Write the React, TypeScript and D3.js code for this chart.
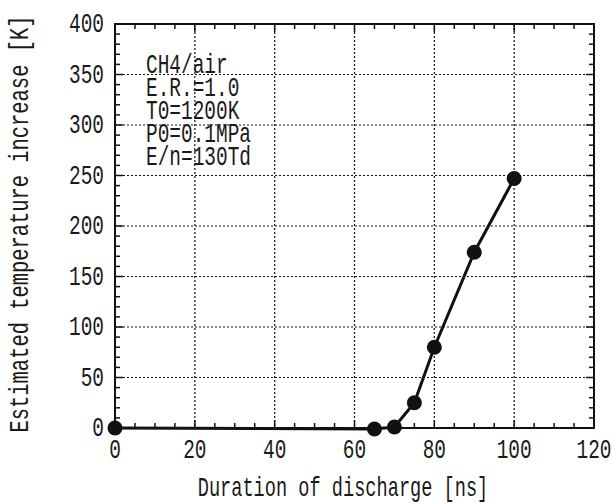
import * as d3 from 'd3';

// data
const duration = [0, 65, 70, 75, 80, 90, 100];
const tempRise = [0, -1, 1, 25, 80, 174, 247];

const xTicks = [0, 20, 40, 60, 80, 100, 120];
const yTicks = [0, 50, 100, 150, 200, 250, 300, 350, 400];

const notes = ['CH4/air', 'E.R.=1.0', 'T0=1200K', 'P0=0.1MPa', 'E/n=130Td'];

const W = 612;
const H = 504;
const left = 115, right = 594, top = 24, bottom = 428;
const FONT = 'Liberation Mono';
const SX = 0.72; // squeeze the mono font to the tall narrow look

const Txt = ({ x, y, anchor = 'start', rot = 0, sx = SX, children }: any) => (
  <text
    transform={`translate(${x},${y}) rotate(${rot}) scale(${sx},1)`}
    textAnchor={anchor}
    fontFamily={FONT}
    fontSize={27}
    fill="#1a1a1a"
  >
    {children}
  </text>
);

export default function App() {
  const x = d3.scaleLinear().domain([0, 120]).range([left, right]);
  const y = d3.scaleLinear().domain([0, 400]).range([bottom, top]);

  const line = d3.line<number>()
    .x((_, i) => x(duration[i]))
    .y(d => y(d));

  const xMinor = d3.range(5, 120, 5).filter(v => v % 20 !== 0);
  const yMinor = d3.range(10, 400, 10).filter(v => v % 50 !== 0);

  return (
    <svg width={W} height={H} style={{ position: 'absolute', left: 0, top: 0, background: '#fff' }}>
      {/* dotted grid */}
      <g stroke="#111" strokeWidth={1.2} strokeDasharray="2,2">
        {xTicks.slice(1, -1).map(v => (
          <line key={'gx' + v} x1={x(v)} x2={x(v)} y1={top} y2={bottom} />
        ))}
        {yTicks.slice(1, -1).map(v => (
          <line key={'gy' + v} x1={left} x2={right} y1={y(v)} y2={y(v)} />
        ))}
      </g>

      {/* inward ticks on all four sides */}
      <g stroke="#111" strokeWidth={1.5}>
        {xTicks.slice(1, -1).map(v => (
          <g key={'tx' + v}>
            <line x1={x(v)} x2={x(v)} y1={bottom} y2={bottom - 8} />
            <line x1={x(v)} x2={x(v)} y1={top} y2={top + 8} />
          </g>
        ))}
        {xMinor.map(v => (
          <g key={'mx' + v}>
            <line x1={x(v)} x2={x(v)} y1={bottom} y2={bottom - 5} />
            <line x1={x(v)} x2={x(v)} y1={top} y2={top + 5} />
          </g>
        ))}
        {yTicks.slice(1, -1).map(v => (
          <g key={'ty' + v}>
            <line x1={left} x2={left + 8} y1={y(v)} y2={y(v)} />
            <line x1={right} x2={right - 8} y1={y(v)} y2={y(v)} />
          </g>
        ))}
        {yMinor.map(v => (
          <g key={'my' + v}>
            <line x1={left} x2={left + 5} y1={y(v)} y2={y(v)} />
            <line x1={right} x2={right - 5} y1={y(v)} y2={y(v)} />
          </g>
        ))}
      </g>

      <rect x={left} y={top} width={right - left} height={bottom - top}
        fill="none" stroke="#111" strokeWidth={2} />

      {/* tick labels */}
      {xTicks.map(v => (
        <Txt key={'lx' + v} x={x(v)} y={458} anchor="middle">{v}</Txt>
      ))}
      {yTicks.map(v => (
        <Txt key={'ly' + v} x={104} y={y(v) + 8} anchor="end">{v}</Txt>
      ))}

      {/* axis titles */}
      <Txt x={343} y={496} anchor="middle" sx={0.69}>Duration of discharge [ns]</Txt>
      <Txt x={28} y={224} anchor="middle" rot={-90} sx={0.757}>Estimated temperature increase [K]</Txt>

      {/* annotation */}
      {notes.map((s, i) => (
        <Txt key={s} x={146} y={73 + i * 23}>{s}</Txt>
      ))}

      {/* series */}
      <path d={line(tempRise) ?? ''} fill="none" stroke="#111" strokeWidth={3} />
      {tempRise.map((v, i) => (
        <circle key={i} cx={x(duration[i])} cy={y(v)} r={7.5} fill="#111" />
      ))}
    </svg>
  );
}
